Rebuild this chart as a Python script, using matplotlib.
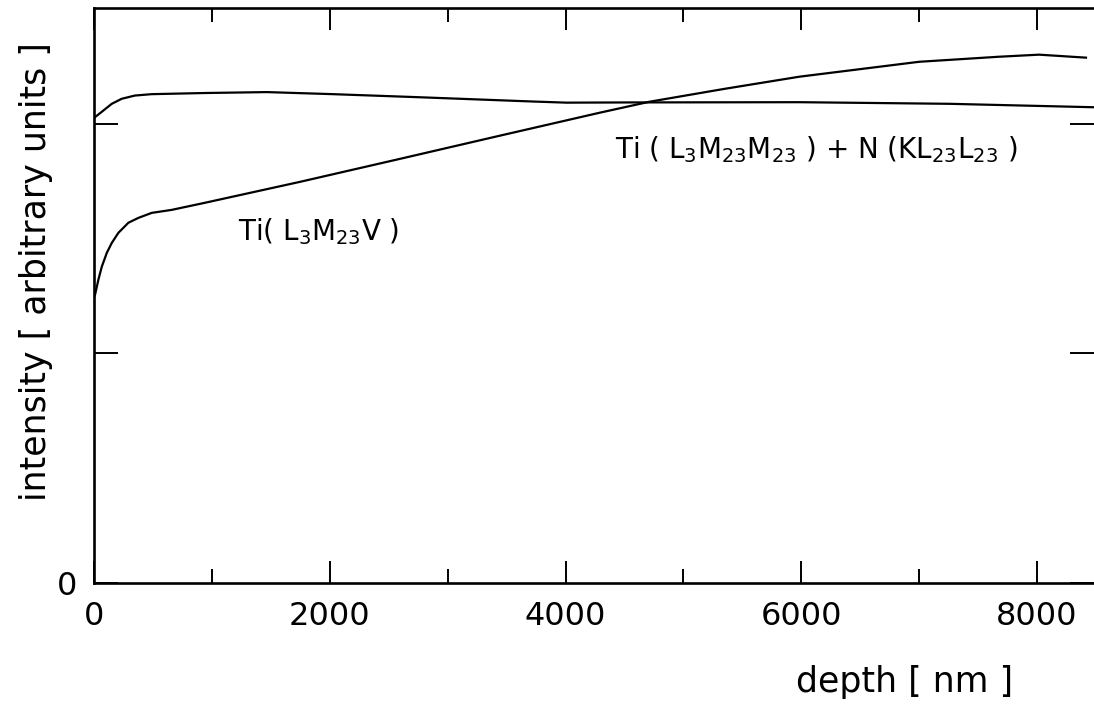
import numpy as np
import matplotlib.pyplot as plt
from matplotlib.ticker import MultipleLocator

# depth [nm] and intensity
depth_ll = [0, 8, 36, 65, 108, 150, 206, 291, 375, 489, 658, 941, 1746,
            2593, 3441, 4288, 4712, 5347, 5983, 7000, 7678, 8017, 8415]
int_ll = [1.245, 1.255, 1.320, 1.377, 1.438, 1.481, 1.525, 1.569, 1.590,
          1.612, 1.625, 1.656, 1.747, 1.847, 1.948, 2.048, 2.096, 2.152,
          2.205, 2.270, 2.292, 2.301, 2.288]

depth_mm = [0, 65, 150, 235, 347, 489, 941, 1466, 2025, 2737, 3720, 4008,
            4568, 5983, 7254, 8483]
int_mm = [2.026, 2.052, 2.087, 2.109, 2.123, 2.129, 2.134, 2.138, 2.129,
          2.116, 2.097, 2.092, 2.093, 2.094, 2.087, 2.072]

x_ticks = [0, 2000, 4000, 6000, 8000]
x_ticklabels = ["0", "2000", "4000", "6000", "8000"]

fig = plt.figure(figsize=(10.94, 7.11), dpi=100)
ax = fig.add_axes([0.086, 0.180, 0.914, 0.809])

ax.plot(depth_ll, int_ll, color="black", lw=1.6)
ax.plot(depth_mm, int_mm, color="black", lw=1.6)

ax.set_xlim(0, 8483)
ax.set_ylim(0, 2.505)

ax.set_xticks(x_ticks)
ax.set_xticklabels(x_ticklabels)
ax.xaxis.set_minor_locator(MultipleLocator(1000))
ax.set_yticks([0, 1, 2])
ax.set_yticklabels(["0", "", ""])

ax.tick_params(axis="x", which="major", direction="in", length=16, width=1.4,
               top=True, labelsize=23, pad=13)
ax.tick_params(axis="x", which="minor", direction="in", length=10, width=1.4,
               top=True)
ax.tick_params(axis="y", which="major", direction="in", length=17, width=1.4,
               right=True, labelsize=23, pad=12)

for side in ["left", "top", "bottom"]:
    ax.spines[side].set_linewidth(1.9)
ax.spines["right"].set_visible(False)

ax.set_xlabel("depth [ nm ]", fontsize=25)
ax.xaxis.set_label_coords(0.811, -0.19)
ax.xaxis.label.set_va("baseline")
ax.set_ylabel("intensity [ arbitrary units ]", fontsize=25)
ax.yaxis.set_label_coords(-0.058, 0.541)
ax.yaxis.label.set_va("center")

ax.text(1220, 1.495, r"Ti( L$_3$M$_{23}$V )", fontsize=20, va="baseline")
ax.text(4420, 1.852, r"Ti ( L$_3$M$_{23}$M$_{23}$ ) + N (KL$_{23}$L$_{23}$ )",
        fontsize=20, va="baseline")

fig.savefig("out.png", dpi=100)
